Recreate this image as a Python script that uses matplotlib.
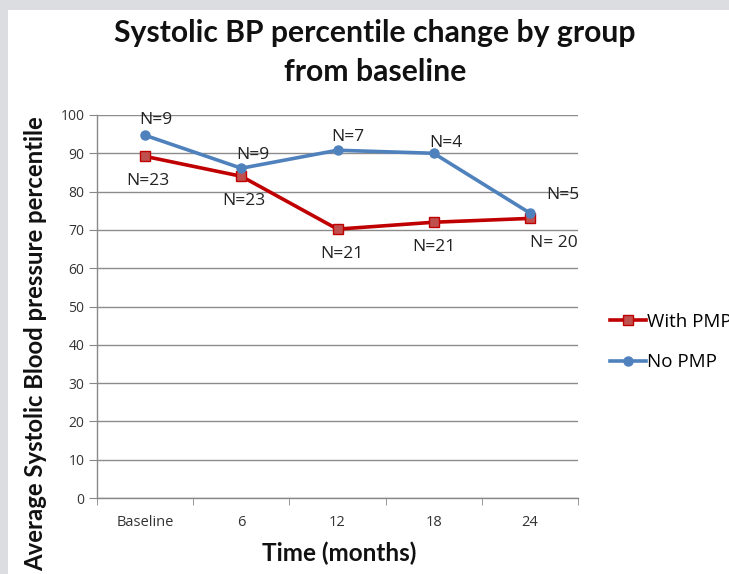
import matplotlib
matplotlib.use("Agg")
import matplotlib.pyplot as plt
from matplotlib.patches import Rectangle

categories = ["Baseline", "6", "12", "18", "24"]
with_pmp = [89.2, 84.0, 70.2, 72.0, 73.0]
no_pmp = [94.7, 86.1, 90.8, 90.0, 74.4]
with_pmp_n = ["N=23", "N=23", "N=21", "N=21", "N= 20"]
no_pmp_n = ["N=9", "N=9", "N=7", "N=4", "N=5"]
yticks = [0, 10, 20, 30, 40, 50, 60, 70, 80, 90, 100]

W, H = 729, 574
fig = plt.figure(figsize=(W / 100, H / 100), dpi=100, facecolor="#dcdde0")
fig.patches.append(Rectangle((8 / W, 0), 1, 1 - 10 / H, transform=fig.transFigure,
                             facecolor="white", edgecolor="none", zorder=-10))

ax = fig.add_axes([97 / W, 1 - 498 / H, (578 - 97) / W, (498 - 115) / H])
ax.set_zorder(1)
ax.set_facecolor("white")
x = list(range(len(categories)))

red = "#c00000"
blue = "#4f81bd"
ax.plot(x, with_pmp, color=red, lw=2.6, marker="s", ms=6.5, mfc="#c0504d",
        mec=red, mew=1, label="With PMP", zorder=3)
ax.plot(x, no_pmp, color=blue, lw=2.6, marker="o", ms=6.5, mfc=blue,
        mec=blue, label="No PMP", zorder=4)

ax.set_xlim(-0.5, len(categories) - 0.5)
ax.set_ylim(0, 100)
ax.set_yticks(yticks)
ax.set_xticks(x)
ax.set_xticklabels(categories, fontfamily="Open Sans", fontsize=10.5, color="#333333")
ax.set_xticks([i - 0.5 for i in range(len(categories) + 1)], minor=True)
ax.tick_params(axis="x", which="major", length=0, pad=12)
ax.tick_params(axis="x", which="minor", length=5, color="#888888", direction="out")
ax.tick_params(axis="y", length=6, color="#888888", direction="out", labelsize=10,
               labelcolor="#333333", pad=3)
for lbl in ax.get_yticklabels():
    lbl.set_fontfamily("Open Sans")

ax.grid(axis="y", color="#8c8c8c", lw=1)
ax.set_axisbelow(True)
for s in ["top", "right"]:
    ax.spines[s].set_visible(False)
for s in ["left", "bottom"]:
    ax.spines[s].set_color("#888888")
    ax.spines[s].set_linewidth(1)

# N labels: above the No PMP points, below the With PMP points
no_dx = [0.08, 0.09, 0.08, 0.09, 0.25]
no_dy = [5, 4, 4, 2, 7]
for i, (v, t) in enumerate(zip(no_pmp, no_pmp_n)):
    ax.annotate(t, (i, v), xytext=(no_dx[i] * 96, no_dy[i]), textcoords="offset points",
                ha="center", va="bottom", fontsize=12.5, fontfamily="Open Sans",
                color="#222222", zorder=5)
with_dx = [0.02, 0.02, 0.03, 0.0, 0.18]
for i, (v, t) in enumerate(zip(with_pmp, with_pmp_n)):
    ax.annotate(t, (i, v), xytext=(with_dx[i] * 96, -12), textcoords="offset points",
                ha="center", va="top", fontsize=12.5, fontfamily="Open Sans",
                color="#222222", zorder=5)

tfont = "Lato"
fig.text(375 / W, 1 - 33 / H, "Systolic BP percentile change by group",
         ha="center", va="center", fontsize=21.7, fontweight="bold",
         fontfamily=tfont, color="#111111")
fig.text(375 / W, 1 - 72 / H, "from baseline",
         ha="center", va="center", fontsize=21.7, fontweight="bold",
         fontfamily=tfont, color="#111111")
fig.text(36 / W, 1 - 344 / H, "Average Systolic Blood pressure percentile",
         rotation=90, ha="center", va="center", fontsize=17.2, fontweight="bold",
         fontfamily=tfont, color="#111111")
fig.text(339 / W, 1 - 553 / H, "Time (months)", ha="center", va="center",
         fontsize=17.5, fontweight="bold", fontfamily=tfont, color="#111111")

ax.legend(loc="center left", bbox_to_anchor=(593 / W, 1 - 342 / H),
          bbox_transform=fig.transFigure, frameon=False, handlelength=1.9,
          handletextpad=0.1, labelspacing=1.2,
          prop={"family": "Open Sans", "size": 13.5})

fig.savefig("out.png", dpi=100, facecolor=fig.get_facecolor())
